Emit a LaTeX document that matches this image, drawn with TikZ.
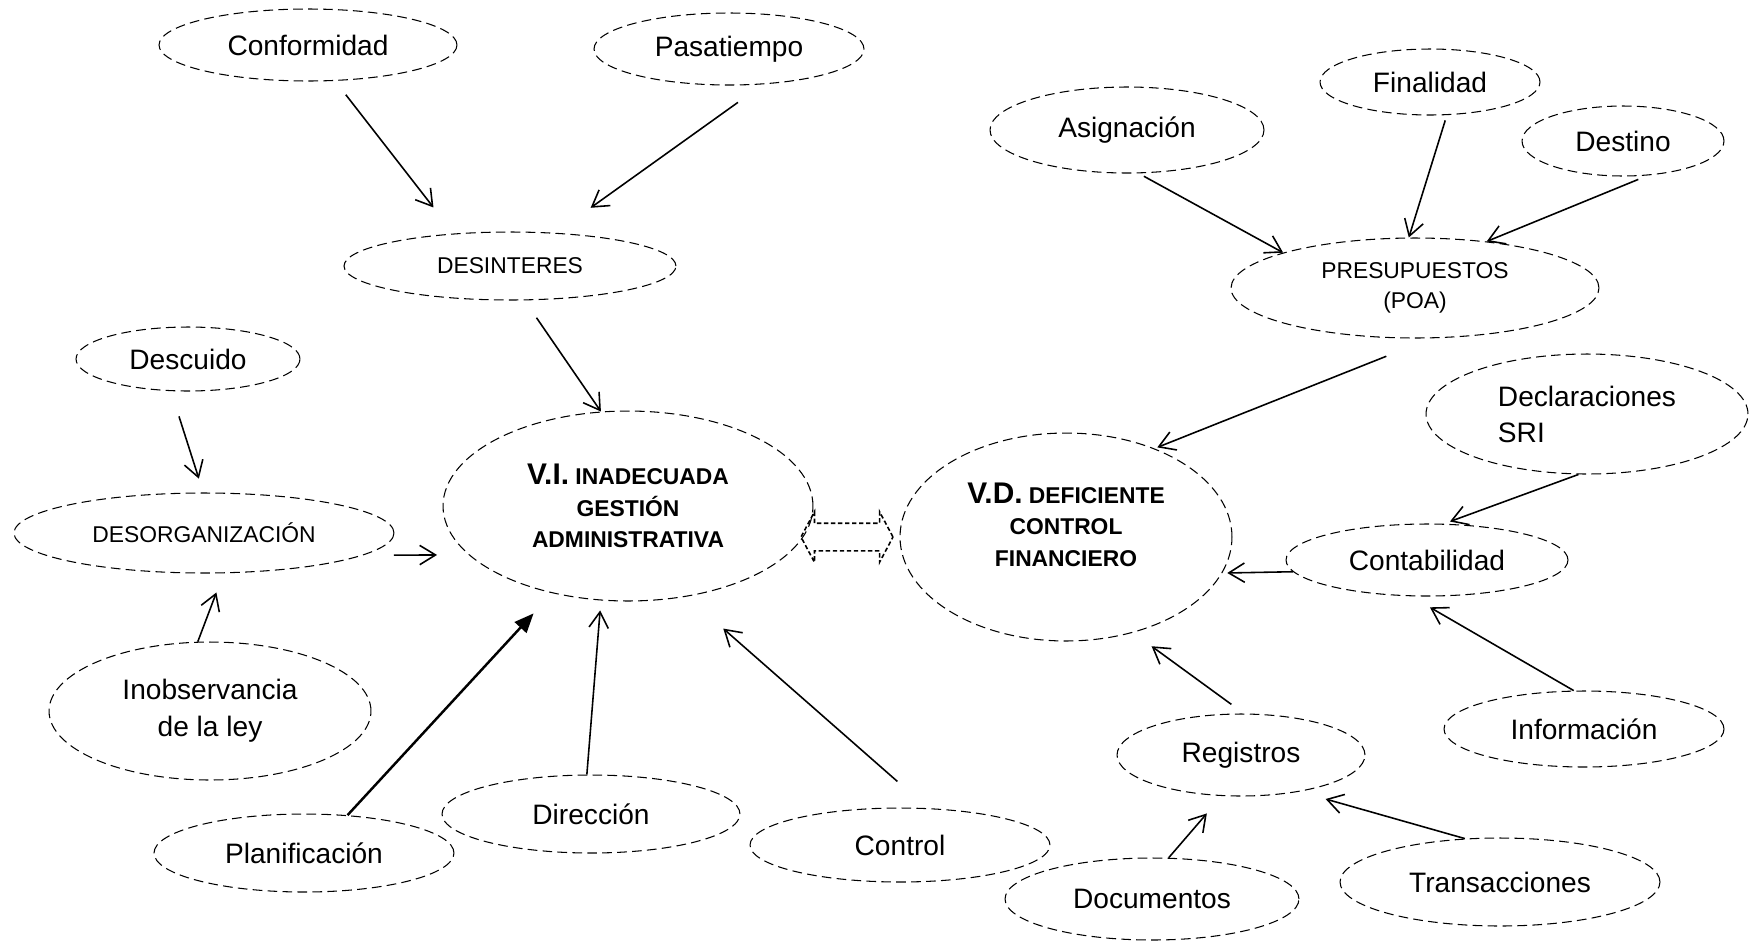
\documentclass[tikz,border=0pt]{standalone}
\usepackage{fontspec}
\setmainfont{Liberation Sans}
\usetikzlibrary{arrows.meta,shapes.geometric,shapes.arrows}
\tikzset{
	burbuja/.style={ellipse, draw, line width=0.6pt, dash pattern=on 5.5pt off 3pt,
			inner sep=0pt, align=center, font=\fontsize{16}{21}\selectfont},
	tam/.style 2 args={minimum width=#1cm, minimum height=#2cm},
	menor/.style={font=\fontsize{13}{17}\selectfont},
	central/.style={font=\fontsize{13}{18}\selectfont\bfseries},
	flecha/.style={line width=0.9pt, -{Straight Barb[length=9pt,width=11pt]}},
	flechagruesa/.style={line width=1.4pt, -{Triangle[length=11pt,width=9pt]}},
	enlace/.style={double arrow, draw, line width=0.9pt, dash pattern=on 2.5pt off 1.5pt,
			inner xsep=0pt, inner ysep=0.26cm, minimum height=1.84cm,
			double arrow head extend=0.23cm, double arrow tip angle=124}
}

\begin{document}
\begin{tikzpicture}[x=0.02cm, y=-0.02cm]
	\useasboundingbox (0,0) rectangle (1755,944);

	% variable independiente
	\node[burbuja, central, tam={7.40}{3.80}] (vi) at (628,506)
		{{\fontsize{17}{18}\selectfont V.I.} INADECUADA\\GESTIÓN\\ADMINISTRATIVA};
	\node[burbuja, tam={5.96}{1.44}] (conf) at (308,45) {Conformidad};
	\node[burbuja, tam={5.40}{1.44}] (pasa) at (729,49) {Pasatiempo};
	\node[burbuja, menor, tam={6.64}{1.36}] (desint) at (510,266) {DESINTERES};
	\node[burbuja, tam={4.48}{1.28}] (descu) at (188,359) {Descuido};
	\node[burbuja, menor, tam={7.60}{1.60}] (desorg) at (204,533) {DESORGANIZACIÓN};
	\node[burbuja, tam={6.44}{2.76}] (inobs) at (210,711) {Inobservancia\\de la ley};
	\node[burbuja, tam={6.00}{1.56}] (plan) at (304,853) {Planificación};
	\node[burbuja, tam={5.96}{1.56}] (dir) at (591,814) {Dirección};
	\node[burbuja, tam={6.00}{1.48}] (ctrl) at (900,845) {Control};

	% variable dependiente
	\node[burbuja, central, text depth=0.5cm, tam={6.64}{4.16}] (vd) at (1066,537)
		{{\fontsize{17}{18}\selectfont V.D.} DEFICIENTE\\CONTROL\\FINANCIERO};
	\node[burbuja, tam={5.48}{1.72}] (asig) at (1127,130) {Asignación};
	\node[burbuja, tam={4.40}{1.32}] (fina) at (1430,82) {Finalidad};
	\node[burbuja, tam={4.04}{1.40}] (dest) at (1623,141) {Destino};
	\node[burbuja, menor, tam={7.36}{2.00}] (presu) at (1415,288) {PRESUPUESTOS\\(POA)};
	\node[burbuja, align=left, tam={6.44}{2.40}, font=\fontsize{16}{20.5}\selectfont] (decl) at (1587,414) {Declaraciones\\SRI};
	\node[burbuja, tam={5.64}{1.44}] (conta) at (1427,560) {Contabilidad};
	\node[burbuja, tam={5.60}{1.52}] (info) at (1584,729) {Información};
	\node[burbuja, tam={4.96}{1.64}] (regi) at (1241,755) {Registros};
	\node[burbuja, tam={5.88}{1.64}] (docu) at (1152,899) {Documentos};
	\node[burbuja, tam={6.40}{1.76}] (trans) at (1500,882) {Transacciones};

	\node[enlace] (link) at (847,537) {};

	% flechas hacia V.I.
	\draw[flecha, shorten <=0.35cm, shorten >=0.66cm] (conf.-53) -- (desint.150);
	\draw[flecha, shorten <=0.62cm, shorten >=0.86cm] (pasa.-46) -- (desint.36);
	\draw[flecha, shorten <=0.42cm] (desint.-67) -- (vi.106);
	\draw[flecha, shorten <=0.53cm, shorten >=0.29cm] (descu.-118) -- (desorg.91);
	\draw[flecha, shorten >=0.41cm] (inobs.100) -- (desorg.-64);
	\draw[flecha, shorten <=0.62cm, shorten >=0.63cm] (desorg.-8) -- (vi.197);
	\draw[flechagruesa, shorten >=0.55cm] (plan.41) -- (vi.229);
	\draw[flecha, shorten >=0.20cm] (dir.96) -- (vi.254);
	\draw[flecha, shorten <=0.81cm, shorten >=0.97cm] (ctrl.53) -- (vi.-57);

	% flechas hacia V.D.
	\draw[flecha, shorten <=0.12cm] (asig.-75) -- (presu.165);
	\draw[flecha, shorten <=0.11cm] (fina.-63) -- (presu.97);
	\draw[flecha, shorten <=0.21cm] (dest.-54) -- (presu.33);
	\draw[flecha, shorten <=0.97cm, shorten >=0.06cm] (presu.-72) -- (vd.45);
	\draw[flecha, shorten >=0.13cm] (decl.-98) -- (conta.65);
	\draw[flecha, shorten >=0.10cm] (conta.185) -- (vd.-13);
	\draw[flecha, shorten >=0.44cm] (info.105) -- (conta.-114);
	\draw[flecha, shorten <=0.31cm, shorten >=0.46cm] (regi.86) -- (vd.-55);
	\draw[flecha, shorten >=0.46cm] (docu.68) -- (regi.-115);
	\draw[flecha, shorten >=0.54cm] (trans.129) -- (regi.-32);
\end{tikzpicture}
\end{document}
